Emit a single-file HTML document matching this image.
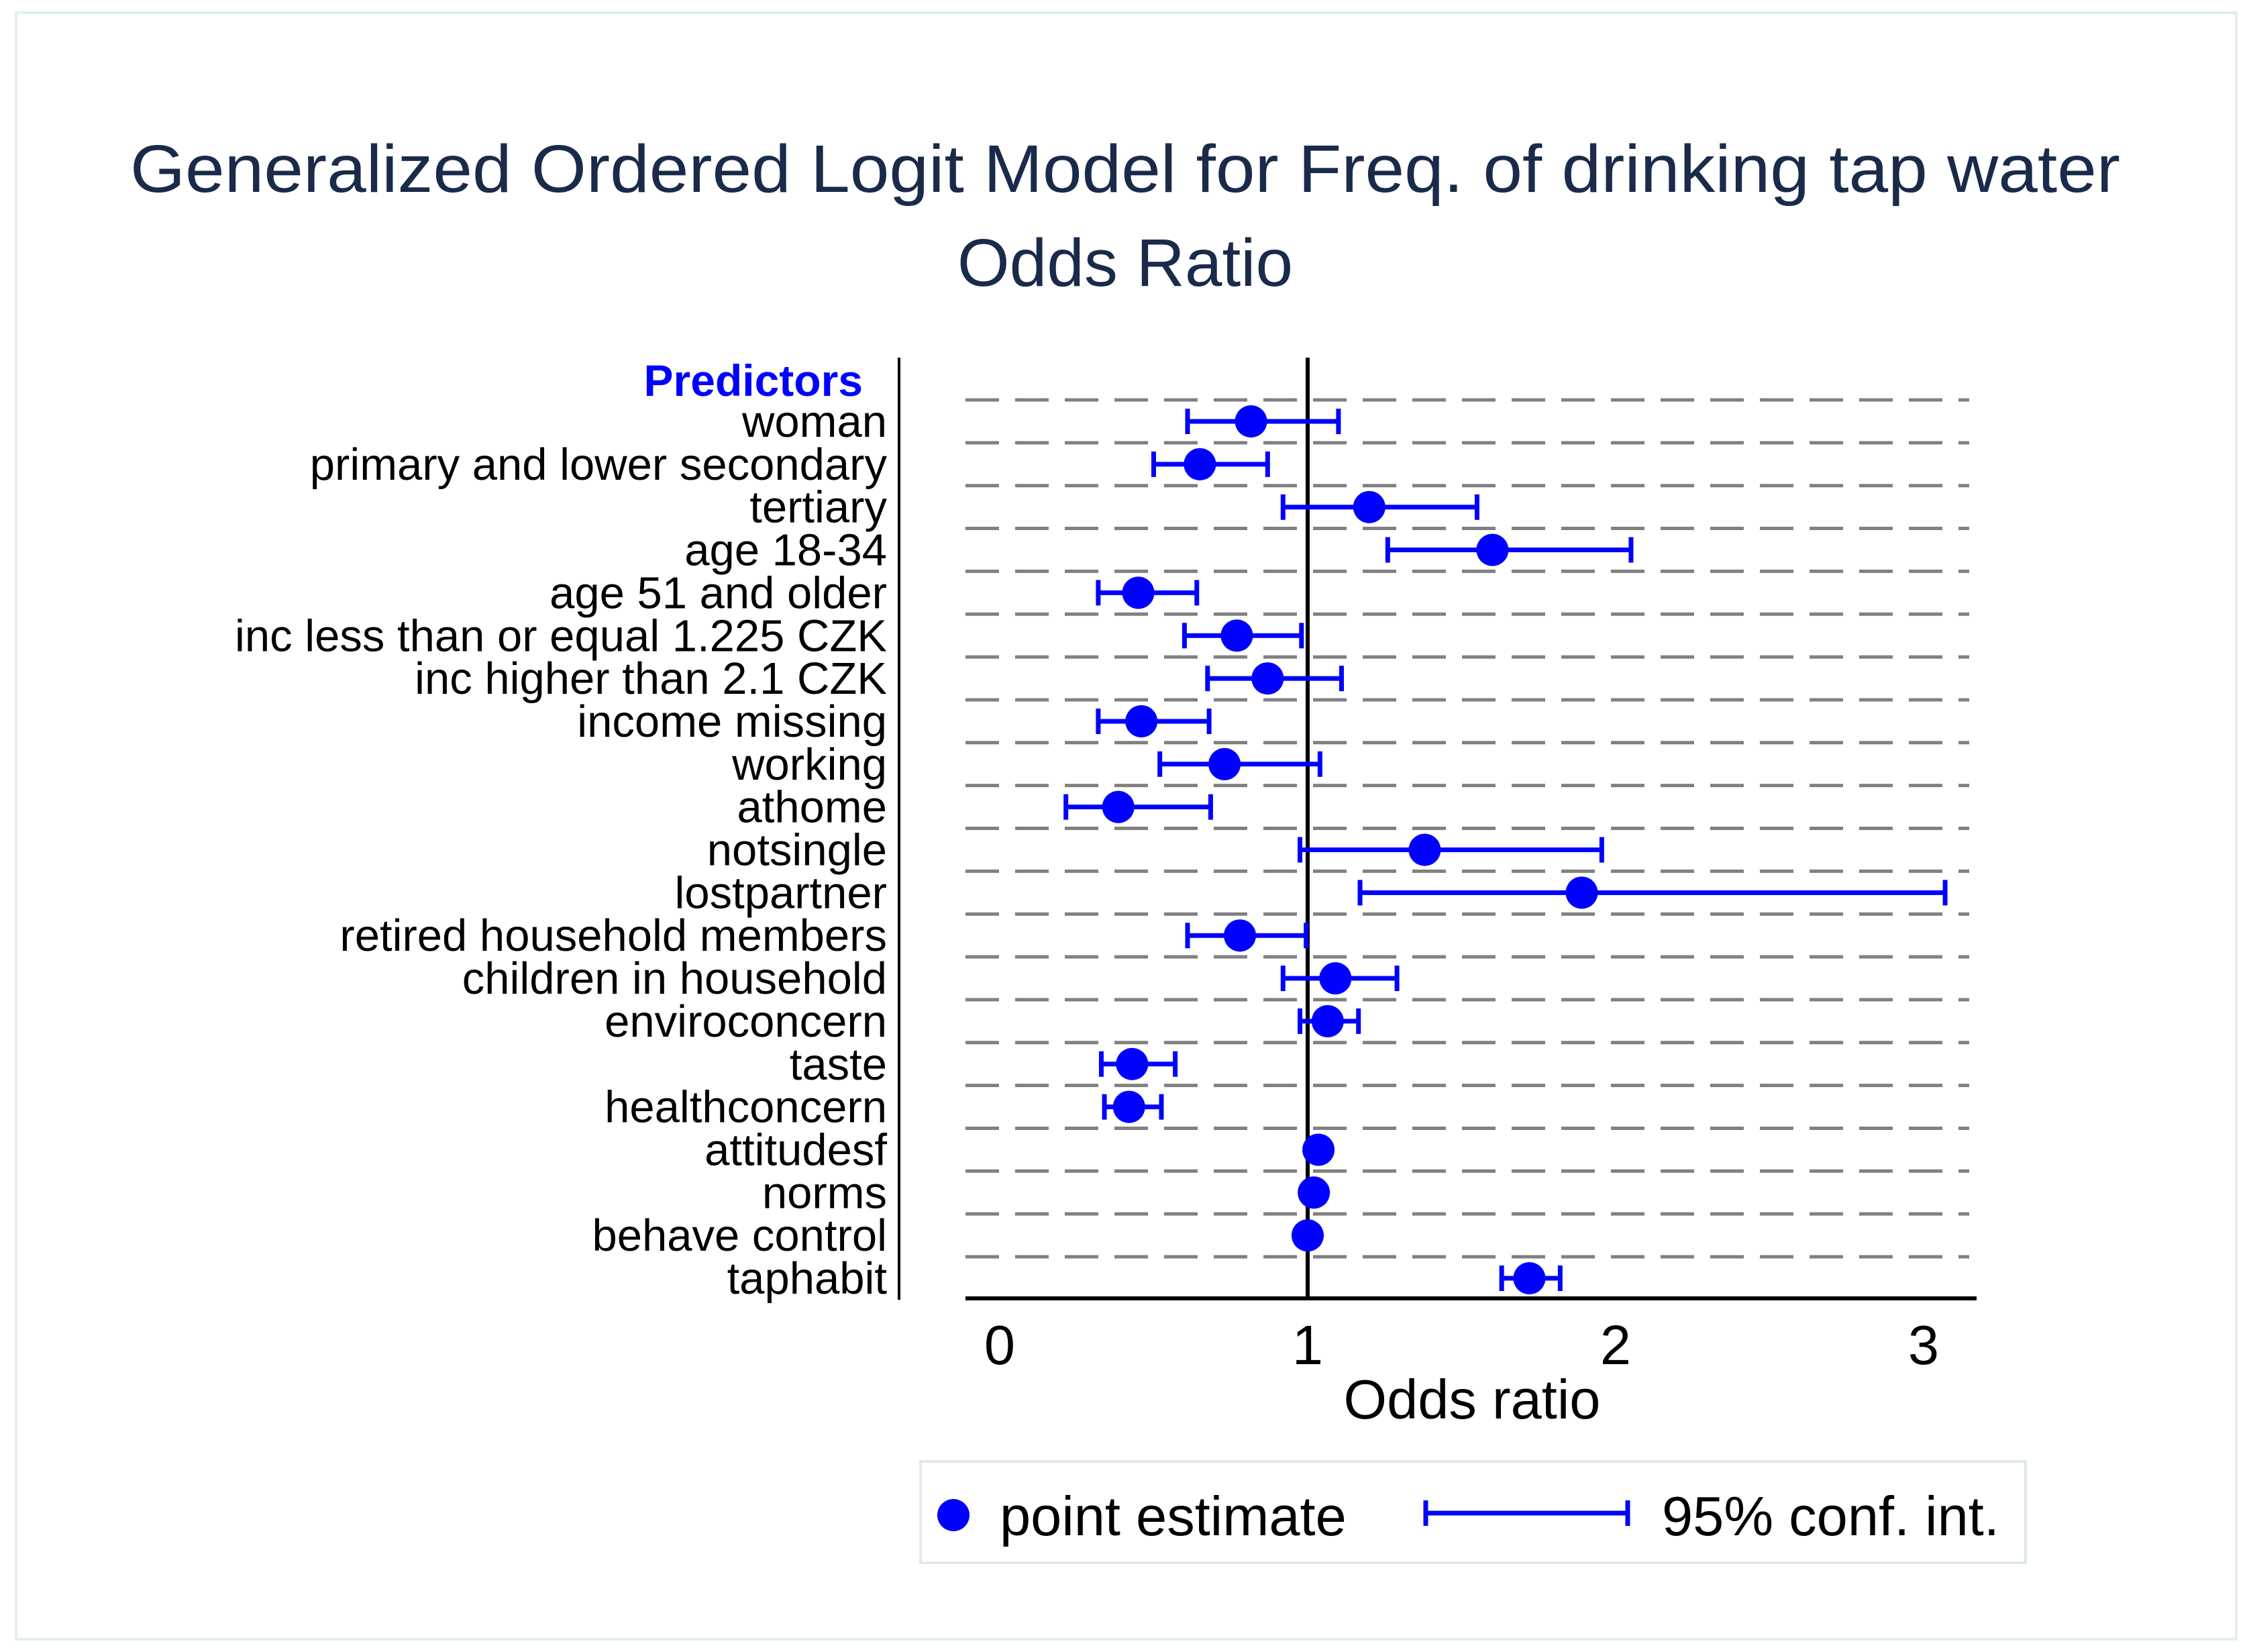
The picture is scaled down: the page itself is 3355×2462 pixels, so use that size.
<!DOCTYPE html>
<html><head><meta charset="utf-8"><style>
html,body{margin:0;padding:0;background:#fff}
svg{display:block;font-family:"Liberation Sans",Arial,sans-serif}
</style></head><body>
<svg id="chart" width="3355" height="2462" viewBox="0 0 3355 2462" xmlns="http://www.w3.org/2000/svg">
<rect x="24" y="19" width="3309" height="2424" fill="#fff" stroke="#e3eeee" stroke-width="4"/>
<text x="1677" y="286" font-size="100" fill="#1a2a4a" text-anchor="middle" textLength="2966" lengthAdjust="spacingAndGlyphs">Generalized Ordered Logit Model for Freq. of drinking tap water</text>
<text x="1677" y="426" font-size="100" fill="#1a2a4a" text-anchor="middle">Odds Ratio</text>
<text x="1286" y="590" font-size="66" font-weight="bold" fill="#0000ff" text-anchor="end">Predictors</text>
<g id="grid"></g>
<line x1="1340" y1="533" x2="1340" y2="1937" stroke="#000" stroke-width="4"/>
<line x1="1439" y1="1935" x2="2946" y2="1935" stroke="#000" stroke-width="6"/>
<g id="marks"></g>
<g id="labels"></g>
<g id="ticks"></g>
<text x="2194" y="2114" font-size="83" fill="#000" text-anchor="middle">Odds ratio</text>
<g>
<rect x="1372" y="2178" width="1647" height="151" fill="#fff" stroke="#e0eaea" stroke-width="4"/>
<circle cx="1421" cy="2258" r="24" fill="#0000ff"/>
<text x="1490" y="2288" font-size="83" fill="#000">point estimate</text>
<line x1="2125" y1="2255" x2="2426" y2="2255" stroke="#0000ff" stroke-width="7"/>
<line x1="2125" y1="2236" x2="2125" y2="2274" stroke="#0000ff" stroke-width="7"/>
<line x1="2426" y1="2236" x2="2426" y2="2274" stroke="#0000ff" stroke-width="7"/>
<text x="2477" y="2288" font-size="83" fill="#000">95% conf. int.</text>
</g>
</svg>
<script>
const categories = ["woman","primary and lower secondary","tertiary","age 18-34","age 51 and older","inc less than or equal 1.225 CZK","inc higher than 2.1 CZK","income missing","working","athome","notsingle","lostpartner","retired household members","children in household","enviroconcern","taste","healthconcern","attitudesf","norms","behave control","taphabit"];
const estimates = [0.816,0.65,1.20,1.60,0.45,0.77,0.87,0.46,0.73,0.385,1.38,1.89,0.78,1.09,1.065,0.43,0.42,1.035,1.02,1.00,1.72];
const lowerCI = [0.61,0.50,0.92,1.26,0.32,0.60,0.675,0.32,0.52,0.215,0.975,1.17,0.61,0.92,0.975,0.33,0.34,1.02,1.01,0.995,1.63];
const upperCI = [1.10,0.87,1.55,2.05,0.64,0.98,1.11,0.68,1.04,0.685,1.955,3.07,0.995,1.29,1.165,0.57,0.525,1.05,1.03,1.01,1.82];
const xTicks = [0,1,2,3];
const xTickLabels = ["0","1","2","3"];

const NS="http://www.w3.org/2000/svg";
function xS(v){return 1490+v*459;}
function yS(i){return 628+i*63.85;}
function mk(tag,attrs,parent){const e=document.createElementNS(NS,tag);for(const k in attrs)e.setAttribute(k,attrs[k]);parent.appendChild(e);return e;}
const grid=document.getElementById('grid'),marks=document.getElementById('marks'),labels=document.getElementById('labels'),ticks=document.getElementById('ticks');
for(let i=0;i<categories.length;i++){
  const g=mk('line',{x1:1439,x2:2935,y1:yS(i)-32,y2:yS(i)-32,stroke:'#808080','stroke-width':5,'stroke-dasharray':'50 24'},grid);
  
  
}
const ref=mk('line',{x1:xS(1),x2:xS(1),y1:533,y2:1935,stroke:'#000','stroke-width':6},grid);


categories.forEach((c,i)=>{
  const y=yS(i);
  const t=mk('text',{x:1322,y:y+23,'font-size':67,'text-anchor':'end',fill:'#000'},labels);
  t.textContent=c;
  
  
  const l=mk('line',{x1:xS(lowerCI[i]),x2:xS(upperCI[i]),y1:y,y2:y,stroke:'#0000ff','stroke-width':7},marks);
  
  
  [lowerCI[i],upperCI[i]].forEach(v=>{
    const cap=mk('line',{x1:xS(v),x2:xS(v),y1:y-19,y2:y+19,stroke:'#0000ff','stroke-width':7},marks);
    
    
  });
  const p=mk('circle',{cx:xS(estimates[i]),cy:y,r:24,fill:'#0000ff'},marks);
  
  
});
xTicks.forEach((v,i)=>{
  const t=mk('text',{x:xS(v),y:2033,'font-size':83,'text-anchor':'middle',fill:'#000'},ticks);
  t.textContent=xTickLabels[i];
  
  
});
</script>
</body></html>
